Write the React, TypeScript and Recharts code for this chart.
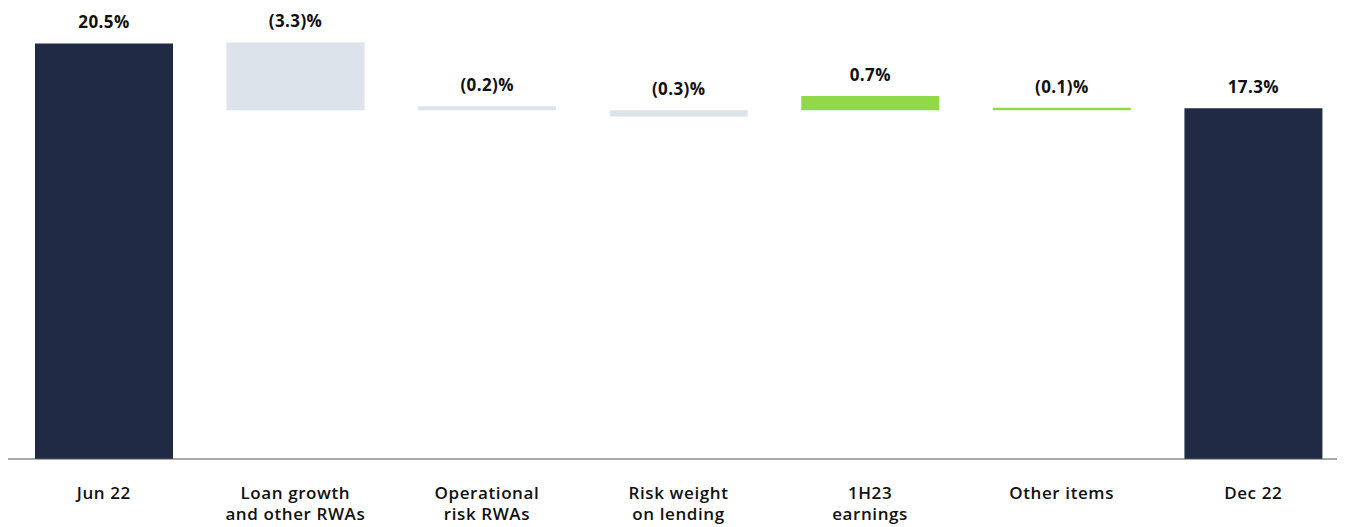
import React from 'react';
import { BarChart, Bar, XAxis, YAxis, Cell, LabelList } from 'recharts';

const categories = [
  'Jun 22',
  'Loan growth\nand other RWAs',
  'Operational\nrisk RWAs',
  'Risk weight\non lending',
  '1H23\nearnings',
  'Other items',
  'Dec 22',
];
const lows = [0, 17.2, 17.2, 16.9, 17.2, 17.2, 0];
const highs = [20.5, 20.55, 17.4, 17.2, 17.9, 17.33, 17.3];
const valueLabels = ['20.5%', '(3.3)%', '(0.2)%', '(0.3)%', '0.7%', '(0.1)%', '17.3%'];
const colors = ['#212a45', '#dce3eb', '#dce3eb', '#dce3eb', '#92d94a', '#92d94a', '#212a45'];

const data = categories.map((c, i) => ({
  name: c,
  range: [lows[i], highs[i]],
  label: valueLabels[i],
}));

const FONT = '"Open Sans", sans-serif';

const Tick = (props: any) => {
  const { x, y, payload } = props;
  const lines = String(payload.value).split('\n');
  return (
    <text
      x={x}
      y={y}
      textAnchor="middle"
      fill="#111111"
      fontSize={17}
      fontWeight={600}
      letterSpacing={0.6}
      fontFamily={FONT}
    >
      {lines.map((l, i) => (
        <tspan key={i} x={x} dy={i === 0 ? 40 : 21}>
          {l}
        </tspan>
      ))}
    </text>
  );
};

export default function App() {
  return (
    <div style={{ width: 1337, height: 519, overflow: 'hidden' }}>
      <style>{'html,body{overflow:hidden;}'}</style>
      <BarChart
        width={1341}
        height={519}
        data={data}
        margin={{ top: 5, right: 0, bottom: 0, left: 0 }}
        barSize={138}
      >
        <XAxis
          dataKey="name"
          interval={0}
          height={68}
          tickLine={false}
          tickSize={0}
          tickMargin={0}
          axisLine={{ stroke: '#555555', strokeWidth: 1.2 }}
          tick={<Tick />}
        />
        <YAxis hide domain={[0, 22]} />
        <Bar dataKey="range" isAnimationActive={false}>
          {data.map((d, i) => (
            <Cell key={i} fill={colors[i]} />
          ))}
          <LabelList
            dataKey="label"
            position="top"
            offset={15}
            fill="#111111"
            fontSize={17}
            fontWeight={700}
            letterSpacing={0.4}
            fontFamily={FONT}
          />
        </Bar>
      </BarChart>
    </div>
  );
}
